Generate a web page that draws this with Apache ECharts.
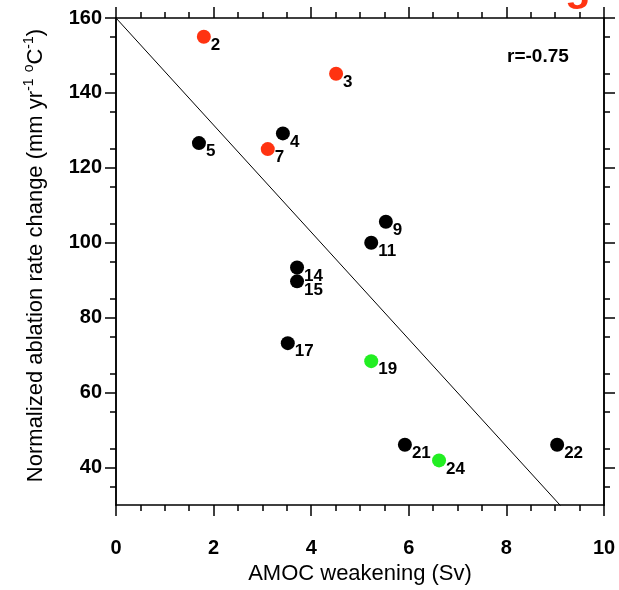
<!DOCTYPE html>
<html>
<head>
<meta charset="utf-8">
<script src="https://cdn.jsdelivr.net/npm/echarts@6/dist/echarts.min.js"></script>
<style>
  html, body { margin: 0; padding: 0; background: #fff; }
  #chart { width: 619px; height: 590px; }
</style>
</head>
<body>
<div id="chart"></div>
<script>
// model number, AMOC weakening (Sv), normalized ablation rate change
var blackPoints = [
  [4, 3.42, 129.2],
  [5, 1.70, 126.6],
  [9, 5.53, 105.6],
  [11, 5.23, 100.0],
  [14, 3.71, 93.4],
  [15, 3.71, 89.7],
  [17, 3.52, 73.2],
  [21, 5.92, 46.1],
  [22, 9.04, 46.1]
];
var redPoints = [
  [2, 1.80, 155.0],
  [3, 4.51, 145.1],
  [7, 3.11, 125.0]
];
var greenPoints = [
  [19, 5.23, 68.4],
  [24, 6.62, 41.9]
];
// regression line
var fitIntercept = 160;
var fitSlope = -14.29;
var rText = 'r=-0.75';

var yMajorTicks = [40, 60, 80, 100, 120, 140, 160];
var yMinorTicks = [35, 45, 55, 65, 75, 85, 95, 105, 115, 125, 135, 145, 155];

var FONT = '"Liberation Sans", Arial, Helvetica, sans-serif';

function toData(list) {
  return list.map(function (p) { return { value: [p[1], p[2]], name: String(p[0]) }; });
}

function scatter(list, color) {
  return {
    type: 'scatter',
    data: toData(list),
    symbolSize: 14,
    itemStyle: { color: color, opacity: 1 },
    label: {
      show: true,
      formatter: '{b}',
      position: [14, 7],
      align: 'left',
      verticalAlign: 'top',
      color: '#000',
      fontFamily: FONT,
      fontWeight: 'bold',
      fontSize: 17
    },
    z: 3
  };
}

var lineStyle = { color: '#000', width: 1.5 };

function yAx(pos, values, len, labels) {
  return {
    type: 'value', position: pos, min: 30, max: 160,
    axisLine: { show: true, onZero: false, lineStyle: lineStyle },
    axisTick: { show: true, inside: false, length: len, customValues: values, lineStyle: lineStyle },
    axisLabel: labels ? {
      show: true, customValues: values, margin: 14, color: '#000',
      fontFamily: FONT, fontWeight: 'bold', fontSize: 20
    } : { show: false },
    splitLine: { show: false }
  };
}

function xAx(pos, labels) {
  return {
    type: 'value', position: pos, min: 0, max: 10, interval: 2,
    axisLine: { show: true, onZero: false, lineStyle: lineStyle },
    axisTick: { show: true, inside: false, length: 11, lineStyle: lineStyle },
    minorTick: { show: true, splitNumber: 4, length: 6, lineStyle: lineStyle },
    axisLabel: labels ? {
      show: true, margin: 33, color: '#000',
      fontFamily: FONT, fontWeight: 'bold', fontSize: 20
    } : { show: false },
    splitLine: { show: false }
  };
}

var chart = echarts.init(document.getElementById('chart'));

var xMain = xAx('bottom', true);
xMain.name = 'AMOC weakening (Sv)';
xMain.nameLocation = 'middle';
xMain.nameGap = 58;
xMain.nameTextStyle = { color: '#000', fontFamily: FONT, fontSize: 22 };

var yMain = yAx('left', yMajorTicks, 11, true);
yMain.name = 'Normalized ablation rate change (mm yr{s|-1} {s|o}C{s|-1})';
yMain.nameLocation = 'middle';
yMain.nameGap = 66;
yMain.nameTextStyle = {
  color: '#000', fontFamily: FONT, fontSize: 22, lineHeight: 28,
  padding: [0, 0, 0, 12],
  rich: {
    s: { fontFamily: FONT, fontSize: 14, lineHeight: 28, verticalAlign: 'top', color: '#000' }
  }
};

chart.setOption({
  animation: false,
  backgroundColor: '#fff',
  grid: { left: 116, right: 15, top: 18, bottom: 83 },
  xAxis: [xMain, xAx('top', false)],
  yAxis: [
    yMain,
    yAx('left', yMinorTicks, 6, false),
    yAx('right', yMajorTicks, 11, false),
    yAx('right', yMinorTicks, 6, false)
  ],
  graphic: [
    {
      type: 'text', x: 507, y: 57,
      style: { text: rText, fill: '#000', font: 'bold 19px ' + FONT, verticalAlign: 'middle' }
    },
    {
      type: 'text', x: 565, y: 9,
      style: { text: 'g', fill: '#ff3311', font: 'bold 42px ' + FONT, verticalAlign: 'bottom' }
    }
  ],
  series: [
    {
      type: 'line',
      data: [[0, fitIntercept], [10, fitIntercept + fitSlope * 10]],
      symbol: 'none',
      lineStyle: { color: '#000', width: 1 },
      clip: true,
      silent: true,
      z: 1
    },
    scatter(blackPoints, '#000'),
    scatter(redPoints, '#ff3311'),
    scatter(greenPoints, '#22ee22')
  ]
});
</script>
</body>
</html>
